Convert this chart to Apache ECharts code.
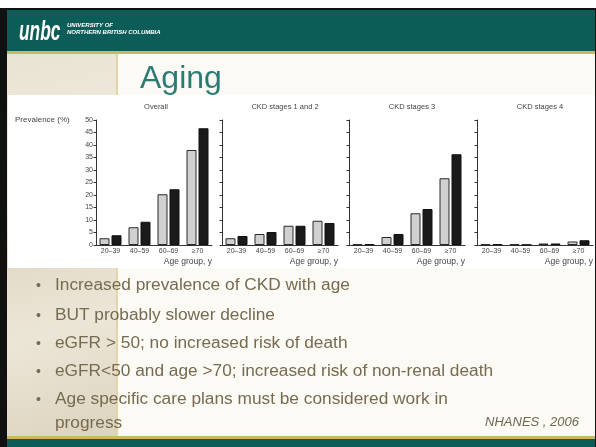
<!DOCTYPE html>
<html>
<head>
<meta charset="utf-8">
<script src="https://cdn.jsdelivr.net/npm/echarts@6/dist/echarts.min.js"></script>
<style>
html,body{margin:0;padding:0;background:#fff;}
#c{width:596px;height:447px;}
</style>
</head>
<body>
<div id="c"></div>
<script>
// ---- data ----
const ageGroups = ['20–39', '40–59', '60–69', '≥70'];
const panelTitles = ['Overall', 'CKD stages 1 and 2', 'CKD stages 3', 'CKD stages 4'];
const overallGray  = [2.7, 7.1, 20.3, 38.0];
const overallBlack = [3.9, 9.3, 22.3, 46.7];
const stage12Gray  = [2.7, 4.4, 7.7, 9.7];
const stage12Black = [3.6, 5.2, 7.7, 8.8];
const stage3Gray   = [0.3, 3.2, 12.7, 26.7];
const stage3Black  = [0.3, 4.4, 14.4, 36.3];
const stage4Gray   = [0.3, 0.3, 0.6, 1.4];
const stage4Black  = [0.3, 0.1, 0.6, 1.9];
const yMin = 0, yMax = 50, yStep = 5;
const bullets = [
  'Increased prevalence of CKD with age',
  'BUT probably slower decline',
  'eGFR > 50; no increased risk of death',
  'eGFR<50 and age >70; increased risk of non-renal death',
  'Age specific care plans must be considered work in\nprogress'
];
const sourceNote = 'NHANES , 2006';
const slideTitle = 'Aging';

// ---- layout ----
const gridLefts = [96, 222, 349, 477];
const gridW = 116, gridTop = 120, gridH = 125;
const titleCenters = [156, 285, 412, 540];
const grayVals = [overallGray, stage12Gray, stage3Gray, stage4Gray];
const blackVals = [overallBlack, stage12Black, stage3Black, stage4Black];
const FONT = '"Liberation Sans", Arial, sans-serif';

const grids = [], xAxes = [], yAxes = [], series = [];
for (let i = 0; i < 4; i++) {
  grids.push({left: gridLefts[i], top: gridTop, width: gridW, height: gridH, containLabel: false});
  xAxes.push({
    type: 'category', gridIndex: i, data: ageGroups, z: 5,
    axisLine: {lineStyle: {color: '#333', width: 1}},
    axisTick: {show: false},
    axisLabel: {fontSize: 7, color: '#444', margin: 3, fontFamily: FONT},
    name: 'Age group, y', nameLocation: 'end', nameGap: 0,
    nameTextStyle: {fontSize: 8.5, color: '#444', align: 'right', verticalAlign: 'top', padding: [12, 0, 0, 0], fontFamily: FONT}
  });
  yAxes.push({
    type: 'value', gridIndex: i, min: yMin, max: yMax, interval: yStep, z: 5,
    axisLine: {show: true, lineStyle: {color: '#333', width: 1}},
    axisTick: {show: true, length: 2.5, lineStyle: {color: '#333'}},
    axisLabel: {show: i === 0, fontSize: 7, color: '#444', margin: 3, fontFamily: FONT},
    splitLine: {show: false}
  });
  series.push({
    type: 'bar', name: 'NHANES 1988–1994', xAxisIndex: i, yAxisIndex: i, data: grayVals[i],
    barWidth: 10, barGap: '20%', z: 6,
    itemStyle: {color: '#d0d0d0', borderColor: '#2a2a2a', borderWidth: 1}
  });
  series.push({
    type: 'bar', name: 'NHANES 1999–2004', xAxisIndex: i, yAxisIndex: i, data: blackVals[i],
    barWidth: 10, barGap: '20%', z: 6,
    itemStyle: {color: '#1a1a1a', borderColor: '#111', borderWidth: 1}
  });
}

const graphics = [
  // slide background
  {type: 'rect', shape: {x: 0, y: 0, width: 596, height: 447}, style: {fill: '#ffffff'}, z: -20},
  {type: 'rect', shape: {x: 0, y: 8, width: 596, height: 439}, style: {fill: '#111'}, z: -19},
  {type: 'rect', shape: {x: 7, y: 10, width: 588, height: 437}, style: {fill: '#fbfaf5'}, z: -18},
  // left textured panel
  {type: 'rect', shape: {x: 7, y: 54, width: 110, height: 383},
   style: {fill: new echarts.graphic.LinearGradient(0, 0, 1, 1, [
     {offset: 0, color: '#e9e3d3'}, {offset: 0.35, color: '#f1ece0'},
     {offset: 0.5, color: '#e2dac6'}, {offset: 0.7, color: '#ece6d8'}, {offset: 1, color: '#dcd3bd'}])}, z: -17},
  {type: 'rect', shape: {x: 116, y: 54, width: 2, height: 383}, style: {fill: '#e2d6a8'}, z: -16},
  // header
  {type: 'rect', shape: {x: 7, y: 10, width: 588, height: 42}, style: {fill: '#0c5d57'}, z: -15},
  {type: 'rect', shape: {x: 7, y: 51, width: 588, height: 3}, style: {fill: '#cdb765'}, z: -15},
  // footer
  {type: 'rect', shape: {x: 7, y: 436, width: 588, height: 3}, style: {fill: '#cdb765'}, z: -15},
  {type: 'rect', shape: {x: 7, y: 439, width: 588, height: 8}, style: {fill: '#0c5d57'}, z: -15},
  // logo
  {type: 'text', x: 19, y: 18, scaleX: 0.62, style: {text: 'unbc', font: 'italic bold 28px ' + FONT, fill: '#ffffff'}, z: 10},
  {type: 'text', x: 67, y: 22, style: {text: 'UNIVERSITY OF', font: 'italic bold 6px ' + FONT, fill: '#ffffff'}, z: 10},
  {type: 'text', x: 67, y: 29, style: {text: 'NORTHERN BRITISH COLUMBIA', font: 'italic bold 6px ' + FONT, fill: '#ffffff'}, z: 10},
  // slide title
  {type: 'text', x: 140, y: 63, style: {text: slideTitle, font: '32px ' + FONT, fill: '#2b7b73'}, z: -14},
  // chart white box
  {type: 'rect', shape: {x: 8, y: 95, width: 587, height: 173}, style: {fill: '#ffffff'}, z: -10},
  {type: 'text', x: 15, y: 116, style: {text: 'Prevalence (%)', font: '8px ' + FONT, fill: '#444'}, z: 10},
  // source
  {type: 'text', x: 579, y: 416, style: {text: sourceNote, font: 'italic 13px ' + FONT, fill: '#6e6650', textAlign: 'right'}, z: 10}
];
for (let i = 0; i < 4; i++) {
  graphics.push({type: 'text', x: titleCenters[i], y: 103,
    style: {text: panelTitles[i], font: '7.5px ' + FONT, fill: '#444', textAlign: 'center'}, z: 10});
}
const bulletY = [273, 303, 331, 359, 387];
for (let i = 0; i < bullets.length; i++) {
  graphics.push({type: 'text', x: 36, y: bulletY[i] + 6, style: {text: '•', font: '14px ' + FONT, fill: '#776a50'}, z: 10});
  graphics.push({type: 'text', x: 55, y: bulletY[i],
    style: {text: bullets[i], font: '17.3px ' + FONT, fill: '#776a50', lineHeight: 24}, z: 10});
}

const chart = echarts.init(document.getElementById('c'), null, {renderer: 'canvas'});
chart.setOption({
  animation: false,
  backgroundColor: 'transparent',
  grid: grids, xAxis: xAxes, yAxis: yAxes, series: series,
  graphic: {elements: graphics}
});
</script>
</body>
</html>
